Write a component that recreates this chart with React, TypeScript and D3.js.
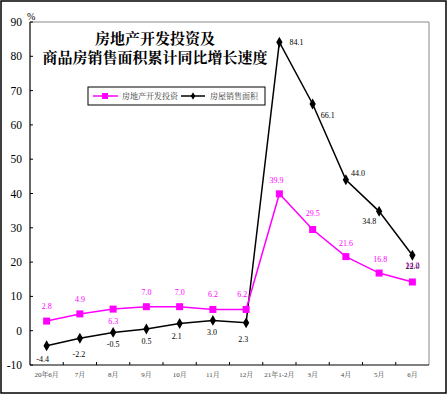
import React from "react";
import * as d3 from "d3";

const categories = ["20年6月", "7月", "8月", "9月", "10月", "11月", "12月", "21年1-2月", "3月", "4月", "5月", "6月"];
const investment = [2.8, 4.9, 6.3, 7.0, 7.0, 6.2, 6.2, 39.9, 29.5, 21.6, 16.8, 14.2];
const salesArea = [-4.4, -2.2, -0.5, 0.5, 2.1, 3.0, 2.3, 84.1, 66.1, 44.0, 34.8, 22.0];
const yTicks = [-10, 0, 10, 20, 30, 40, 50, 60, 70, 80, 90];
const seriesNames = ["房地产开发投资", "房屋销售面积"];

// label offsets [dx, dy] (styling only)
const invOff: [number, number][] = [[0, -15], [0, -15], [0, 12], [0, -15], [0, -15], [0, -15], [-4, -15], [-3, -14], [0, -17], [0, -14], [1, -14], [0, -17]];
const salesOff: [number, number][] = [[-4, 13], [-1, 16], [0, 12], [0, 12], [-3, 13], [-1, 12], [-3, 16], [17, 0], [15, 11], [12, -7], [-10, 10], [0, 11]];

const W = 448, H = 396;
const L = 30, R = 429, T = 22, B = 365;
const FONT = "'Liberation Serif', 'Noto Serif CJK SC', 'Noto Sans CJK SC', serif";
const PINK = "#FF00FF";

export default function App() {
  const x = d3.scaleBand<string>().domain(categories).range([L, R]).paddingInner(0).paddingOuter(0);
  const y = d3.scaleLinear().domain([-10, 90]).range([B, T]);
  const cx = (i: number) => (x(categories[i]) as number) + x.bandwidth() / 2;
  const line = d3.line<number>().x((_, i) => cx(i)).y((d) => y(d));
  const diamond = d3.symbol().type(d3.symbolDiamond).size(34)() as string;

  return (
    <svg width={W} height={H} style={{ position: "absolute", left: 0, top: 0, background: "#fff" }} fontFamily={FONT}>
      <rect x={1} y={1} width={445} height={392} fill="#fff" stroke="#000" strokeWidth={1.5} />
      {/* plot frame */}
      <line x1={L} x2={R} y1={T} y2={T} stroke="#888" strokeWidth={1} />
      <line x1={R} x2={R} y1={T} y2={B} stroke="#888" strokeWidth={1} />
      <line x1={L} x2={L} y1={T} y2={B} stroke="#000" strokeWidth={1.2} />
      <line x1={L} x2={R} y1={B} y2={B} stroke="#000" strokeWidth={1.2} />
      {yTicks.map((t) => (
        <g key={t}>
          <line x1={L} x2={L + 3} y1={y(t)} y2={y(t)} stroke="#000" />
          <text x={22} y={y(t) + 4} fontSize={11.5} textAnchor="end" fill="#000">{t}</text>
        </g>
      ))}
      <text x={27} y={20} fontSize={10} fill="#000">%</text>
      {categories.map((c, i) => (
        <g key={c}>
          {i > 0 && <line x1={x(c) as number} x2={x(c) as number} y1={B} y2={B - 3} stroke="#000" />}
          <text x={cx(i)} y={B + 12} fontSize={7} textAnchor="middle" fill="#444">{c}</text>
        </g>
      ))}
      {/* title */}
      <text x={155} y={44} fontSize={15} fontWeight="bold" textAnchor="middle" fill="#000">房地产开发投资及</text>
      <text x={155} y={63} fontSize={15} fontWeight="bold" textAnchor="middle" fill="#000">商品房销售面积累计同比增长速度</text>
      {/* legend */}
      <rect x={88} y={87} width={177} height={18} fill="#fff" stroke="#000" strokeWidth={1} />
      <line x1={93} x2={118} y1={96} y2={96} stroke={PINK} strokeWidth={1.5} />
      <rect x={102} y={93} width={6} height={6} fill={PINK} />
      <text x={122} y={99} fontSize={8} fill="#333">{seriesNames[0]}</text>
      <line x1={181} x2={205} y1={96} y2={96} stroke="#000" strokeWidth={1.5} />
      <path d={diamond} transform={`translate(193,96) scale(0.7)`} fill="#000" />
      <text x={210} y={99} fontSize={8} fill="#333">{seriesNames[1]}</text>
      {/* series */}
      <path d={line(salesArea) as string} fill="none" stroke="#000" strokeWidth={1.5} />
      <path d={line(investment) as string} fill="none" stroke={PINK} strokeWidth={1.5} />
      {salesArea.map((v, i) => (
        <path key={"s" + i} d={diamond} transform={`translate(${cx(i)},${y(v)})`} fill="#000" />
      ))}
      {investment.map((v, i) => (
        <rect key={"i" + i} x={cx(i) - 3.5} y={y(v) - 3.5} width={7} height={7} fill={PINK} />
      ))}
      {investment.map((v, i) => (
        <text key={"il" + i} x={cx(i) + invOff[i][0]} y={y(v) + invOff[i][1] + 3} fontSize={8} textAnchor="middle" fill={PINK}>{v.toFixed(1)}</text>
      ))}
      {salesArea.map((v, i) => (
        <text key={"sl" + i} x={cx(i) + salesOff[i][0]} y={y(v) + salesOff[i][1] + 3} fontSize={8} textAnchor="middle" fill="#000">{v.toFixed(1)}</text>
      ))}
    </svg>
  );
}
